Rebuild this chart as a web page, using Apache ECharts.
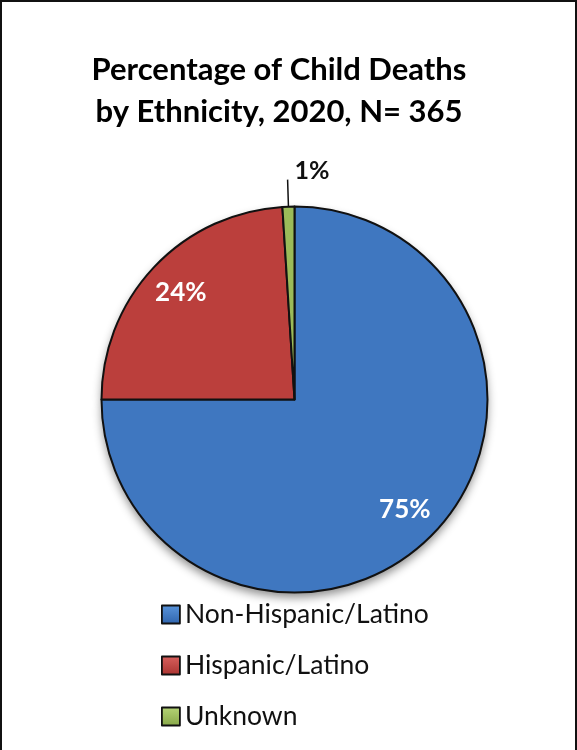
<!DOCTYPE html>
<html>
<head>
<meta charset="utf-8">
<script src="https://cdn.jsdelivr.net/npm/echarts@6/dist/echarts.min.js"></script>
<style>
  html, body { margin: 0; padding: 0; background: #fff; }
  #frame { position: absolute; left: 0; top: 0; width: 577px; height: 750px; box-sizing: border-box;
           border-top: 2px solid #111; border-left: 2px solid #111; border-right: 2px solid #111; }
  #chart { position: absolute; left: 0; top: 0; width: 577px; height: 750px; }
</style>
</head>
<body>
<div id="frame"></div>
<div id="chart"></div>
<script>
const titleText = 'Percentage of Child Deaths\nby Ethnicity, 2020, N= 365';
const categories = ['Non-Hispanic/Latino', 'Hispanic/Latino', 'Unknown'];
const percents = [75, 24, 1];
const colors = ['#3f77c0', '#bb3f3c', '#9bbb59'];
const legendColors = [['#5a95dc', '#2f64ad'], ['#d9615e', '#a93330'], ['#b6d577', '#86a647']];

const FONT = 'Lato, "Open Sans", sans-serif';
const CENTER = [294.5, 399.5];
const R = 193;

const mainData = categories.map((name, i) => {
  const item = { name: name, value: percents[i], itemStyle: { color: colors[i] } };
  if (i === 2) {
    item.label = { show: true, position: 'outside', formatter: '{c}%', color: '#111',
      fontFamily: FONT, fontSize: 25, fontWeight: 'bold', distanceToLabelLine: 0 };
    item.labelLine = { show: true, length: 27, length2: 0, lineStyle: { color: '#111', width: 1.5 } };
  }
  return item;
});

const labelData = categories.map((name, i) => ({
  name: name, value: percents[i],
  label: { show: i < 2 }
}));

const shadowData = categories.map((name, i) => ({ name: name, value: percents[i] }));

const chart = echarts.init(document.getElementById('chart'), null, { renderer: 'canvas' });
chart.setOption({
  animation: false,
  title: {
    text: titleText,
    left: 274,
    textAlign: 'center',
    top: 44,
    textStyle: { fontFamily: FONT, fontSize: 31, fontWeight: 'bold', color: '#000', lineHeight: 42 }
  },
  legend: {
    orient: 'vertical',
    left: 156,
    top: 596,
    itemWidth: 18,
    itemHeight: 18,
    itemGap: 24,
    icon: 'rect',
    data: categories.map((name, i) => ({
      name: name,
      itemStyle: {
        color: new echarts.graphic.LinearGradient(0, 0, 0, 1, [
          { offset: 0, color: legendColors[i][0] }, { offset: 1, color: legendColors[i][1] }]),
        borderColor: '#111', borderWidth: 1.8
      }
    })),
    textStyle: { fontFamily: FONT, fontSize: 26.5, color: '#111' },
    selectedMode: false
  },
  series: [
    {
      type: 'pie', name: 'shadow', silent: true, z: 1,
      center: CENTER, radius: R, startAngle: 90, clockwise: true,
      label: { show: false }, labelLine: { show: false },
      itemStyle: { color: '#ffffff', shadowBlur: 10, shadowOffsetY: 5, shadowColor: 'rgba(0,0,0,0.45)' },
      data: shadowData
    },
    {
      type: 'pie', name: 'main', z: 2,
      center: CENTER, radius: R, startAngle: 90, clockwise: true,
      avoidLabelOverlap: false,
      itemStyle: { borderColor: '#111', borderWidth: 2 },
      label: { show: false },
      labelLine: { show: false },
      labelLayout: function (params) {
        if (params.dataIndex === 2) {
          return { align: 'left', dx: 7, dy: -9 };
        }
      },
      data: mainData
    },
    {
      type: 'pie', name: 'labels', silent: true, z: 3,
      center: CENTER, radius: [113, R], startAngle: 90, clockwise: true,
      itemStyle: { color: 'rgba(0,0,0,0)' },
      label: { position: 'inside', formatter: '{c}%', color: '#fff',
        fontFamily: FONT, fontSize: 26, fontWeight: 'bold' },
      labelLine: { show: false },
      data: labelData
    }
  ]
});
</script>
</body>
</html>
